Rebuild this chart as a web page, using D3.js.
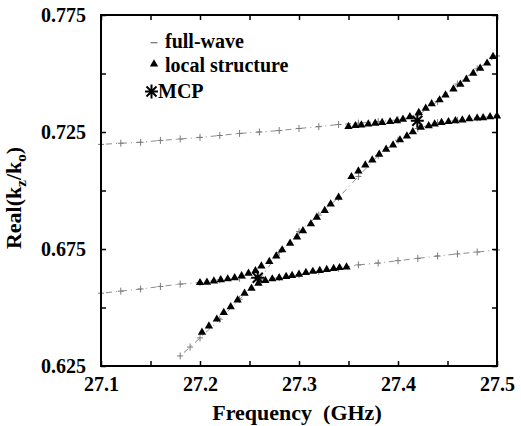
<!DOCTYPE html>
<html><head><meta charset="utf-8">
<script src="https://cdn.jsdelivr.net/npm/d3@7"></script>
<style>
body{margin:0;background:#fff}svg{display:block}
text{font-family:"Liberation Serif","Times New Roman",Times,"DejaVu Serif",serif;font-weight:bold;fill:#000}
</style>
</head><body><svg id="c" width="521" height="426"></svg>
<script>
// ---------------- data ----------------
const xTicks = [27.1, 27.15, 27.2, 27.25, 27.3, 27.35, 27.4, 27.45, 27.5];
const xTickLabels = ["27.1", "", "27.2", "", "27.3", "", "27.4", "", "27.5"];
const yTicks = [0.625, 0.65, 0.675, 0.7, 0.725, 0.75, 0.775];
const yTickLabels = ["0.625", "", "0.675", "", "0.725", "", "0.775"];

// full-wave (three branches)
const fwHighFreq = [27.10,27.12,27.14,27.16,27.18,27.20,27.22,27.24,27.26,27.28,27.30,27.32,27.34,27.36,27.38,27.40,27.42,27.44,27.46,27.48,27.50];
const fwHighVal  = [0.7197,0.7202,0.7206,0.7214,0.7220,0.7227,0.7235,0.7244,0.7250,0.7256,0.7265,0.7273,0.7282,0.7288,0.7294,0.7302,0.7320,0.7380,0.7455,0.7520,0.7575];
const fwLowFreq = [27.10,27.12,27.14,27.16,27.18,27.20,27.22,27.24,27.26,27.28,27.30,27.32,27.34,27.36,27.38,27.40,27.42,27.44,27.46,27.48,27.50];
const fwLowVal  = [0.6561,0.6570,0.6579,0.6590,0.6600,0.6607,0.6618,0.6625,0.6620,0.6627,0.6640,0.6655,0.6667,0.6682,0.6690,0.6700,0.6710,0.6720,0.6729,0.6737,0.6746];
const fwSteepFreq = [27.18,27.19,27.20,27.22,27.24,27.26,27.28,27.30,27.32,27.34,27.36,27.38,27.40,27.42,27.44,27.46,27.48,27.50];
const fwSteepVal  = [0.6293,0.6331,0.6370,0.6450,0.6535,0.6620,0.6735,0.6825,0.6895,0.6970,0.7060,0.7150,0.7215,0.7265,0.7290,0.7300,0.7310,0.7318];

// local structure (three branches)
const ls1Freq = [27.200,27.207,27.214,27.221,27.228,27.235,27.242,27.249,27.256,27.262,27.270,27.277,27.283,27.291,27.298,27.304,27.312,27.318,27.326,27.332,27.340,27.353,27.360,27.367,27.374,27.381,27.388,27.395,27.402,27.409,27.415,27.423,27.431,27.437,27.444,27.451,27.458,27.465,27.472,27.480,27.486,27.493,27.500];
const ls1Val  = [0.6606,0.6608,0.6613,0.6618,0.6622,0.6627,0.6635,0.6646,0.6657,0.6677,0.6696,0.6720,0.6746,0.6774,0.6801,0.6828,0.6857,0.6885,0.6914,0.6942,0.6971,0.7059,0.7083,0.7109,0.7130,0.7155,0.7176,0.7194,0.7216,0.7233,0.7251,0.7270,0.7276,0.7284,0.7290,0.7294,0.7298,0.7301,0.7306,0.7309,0.7311,0.7315,0.7318];
const ls2Freq = [27.202,27.209,27.217,27.224,27.231,27.238,27.245,27.252,27.259,27.266,27.273,27.280,27.287,27.293,27.300,27.307,27.314,27.321,27.328,27.335,27.341,27.348];
const ls2Val  = [0.6394,0.6421,0.6450,0.6478,0.6503,0.6532,0.6561,0.6582,0.6603,0.6615,0.6622,0.6627,0.6632,0.6636,0.6642,0.6649,0.6654,0.6658,0.6662,0.6666,0.6670,0.6673];
const ls3Freq = [27.350,27.357,27.363,27.370,27.377,27.384,27.392,27.399,27.405,27.412,27.421,27.428,27.434,27.442,27.448,27.456,27.463,27.469,27.476,27.483,27.490,27.496];
const ls3Val  = [0.7273,0.7277,0.7280,0.7284,0.7287,0.7290,0.7294,0.7298,0.7304,0.7315,0.7333,0.7351,0.7370,0.7387,0.7408,0.7433,0.7454,0.7475,0.7501,0.7522,0.7544,0.7572];

// MCP points
const mcpFreq = [27.2583, 27.4195];
const mcpVal  = [0.6627, 0.7298];

const legendLabels = ["full-wave", "local structure", "MCP"];
const xTitle = "Frequency  (GHz)";

// ---------------- drawing ----------------
const svg = d3.select("#c");
const L = 101, R = 497, T = 15, B = 366;
const x = d3.scaleLinear().domain([27.1, 27.5]).range([L, R]);
const y = d3.scaleLinear().domain([0.625, 0.775]).range([B, T]);

const zip = (fs, vs) => fs.map((f, i) => [f, vs[i]]);

// full-wave
const fwBranches = [zip(fwHighFreq, fwHighVal), zip(fwLowFreq, fwLowVal), zip(fwSteepFreq, fwSteepVal)];
const line = d3.line().x(d => x(d[0])).y(d => y(d[1]));
const gFw = svg.append("g");
fwBranches.forEach(br => {
  gFw.append("path").attr("d", line(br)).attr("fill", "none")
    .attr("stroke", "#8c8c8c").attr("stroke-width", 1)
    .attr("stroke-dasharray", "1,4,6,4");
  gFw.selectAll(null).data(br).enter().append("path")
    .attr("transform", d => `translate(${x(d[0])},${y(d[1])})`)
    .attr("d", "M-3,0H3M0,-3.5V3.5")
    .attr("stroke", "#7a7a7a").attr("stroke-width", 1).attr("fill", "none");
});

// local structure triangles
const tri = d3.symbol(d3.symbolTriangle, 30);
const lsBranches = [zip(ls1Freq, ls1Val), zip(ls2Freq, ls2Val), zip(ls3Freq, ls3Val)];
const gLs = svg.append("g");
lsBranches.forEach(br => {
  gLs.selectAll(null).data(br).enter().append("path")
    .attr("transform", d => `translate(${x(d[0])},${y(d[1])})`)
    .attr("d", tri).attr("fill", "#000");
});

// MCP stars
const starPath = "M0,-7V7M-6.5,0H6.5M-5,-5L5,5M-5,5L5,-5";
svg.append("g").selectAll("path").data(zip(mcpFreq, mcpVal)).enter().append("path")
  .attr("transform", d => `translate(${x(d[0])},${y(d[1])})`)
  .attr("d", starPath).attr("stroke", "#000").attr("stroke-width", 2).attr("fill", "none");

// axes
function styleAxis(g) {
  g.select(".domain").remove();
  g.attr("font-family", null).attr("font-size", null);
  g.selectAll(".tick line").attr("stroke", "#000").attr("stroke-width", 1.5);
  g.selectAll(".tick text").style("font-size", "20px").attr("fill", "#000");
}
svg.append("g").attr("transform", `translate(0,${B})`)
  .call(d3.axisBottom(x).tickValues(xTicks).tickSizeInner(-5).tickSizeOuter(0).tickPadding(11)
    .tickFormat((d, i) => xTickLabels[i])).call(styleAxis);
svg.append("g").attr("transform", `translate(0,${T})`)
  .call(d3.axisTop(x).tickValues(xTicks).tickSizeInner(-5).tickSizeOuter(0).tickFormat(() => ""))
  .call(styleAxis);
svg.append("g").attr("transform", `translate(${L},0)`)
  .call(d3.axisLeft(y).tickValues(yTicks).tickSizeInner(-5).tickSizeOuter(0).tickPadding(15)
    .tickFormat((d, i) => yTickLabels[i])).call(styleAxis);
svg.append("g").attr("transform", `translate(${R},0)`)
  .call(d3.axisRight(y).tickValues(yTicks).tickSizeInner(-5).tickSizeOuter(0).tickFormat(() => ""))
  .call(styleAxis);

// frame
svg.append("rect").attr("x", L).attr("y", T).attr("width", R - L).attr("height", B - T)
  .attr("fill", "none").attr("stroke", "#000").attr("stroke-width", 2);

// axis titles
svg.append("text").attr("x", (L + R) / 2 - 2).attr("y", 420)
  .attr("text-anchor", "middle").style("font-size", "22px")
  .style("white-space", "pre").text(xTitle);

const yt = svg.append("text").attr("transform", "translate(21,198) rotate(-90)")
  .attr("text-anchor", "middle").style("font-size", "22px");
yt.append("tspan").text("Real(k");
yt.append("tspan").style("font-size", "15px").attr("dy", 5).text("z");
yt.append("tspan").attr("dy", -5).text("/k");
yt.append("tspan").style("font-size", "15px").attr("dy", 5).text("o");
yt.append("tspan").attr("dy", -5).text(")");

// legend
const lg = svg.append("g");
lg.append("path").attr("d", "M150.5,42.7H157.5").attr("stroke", "#7a7a7a").attr("stroke-width", 1.3);
lg.append("path").attr("transform", "translate(154,64)").attr("d", tri).attr("fill", "#000");
lg.append("path").attr("transform", "translate(151.5,91.5)").attr("d", starPath)
  .attr("stroke", "#000").attr("stroke-width", 2).attr("fill", "none");
const legendPos = [[165, 48], [165, 72], [158, 98]];
legendLabels.forEach((t, i) => {
  lg.append("text").attr("x", legendPos[i][0]).attr("y", legendPos[i][1])
    .style("font-size", "20px").text(t);
});
</script>
</body></html>
